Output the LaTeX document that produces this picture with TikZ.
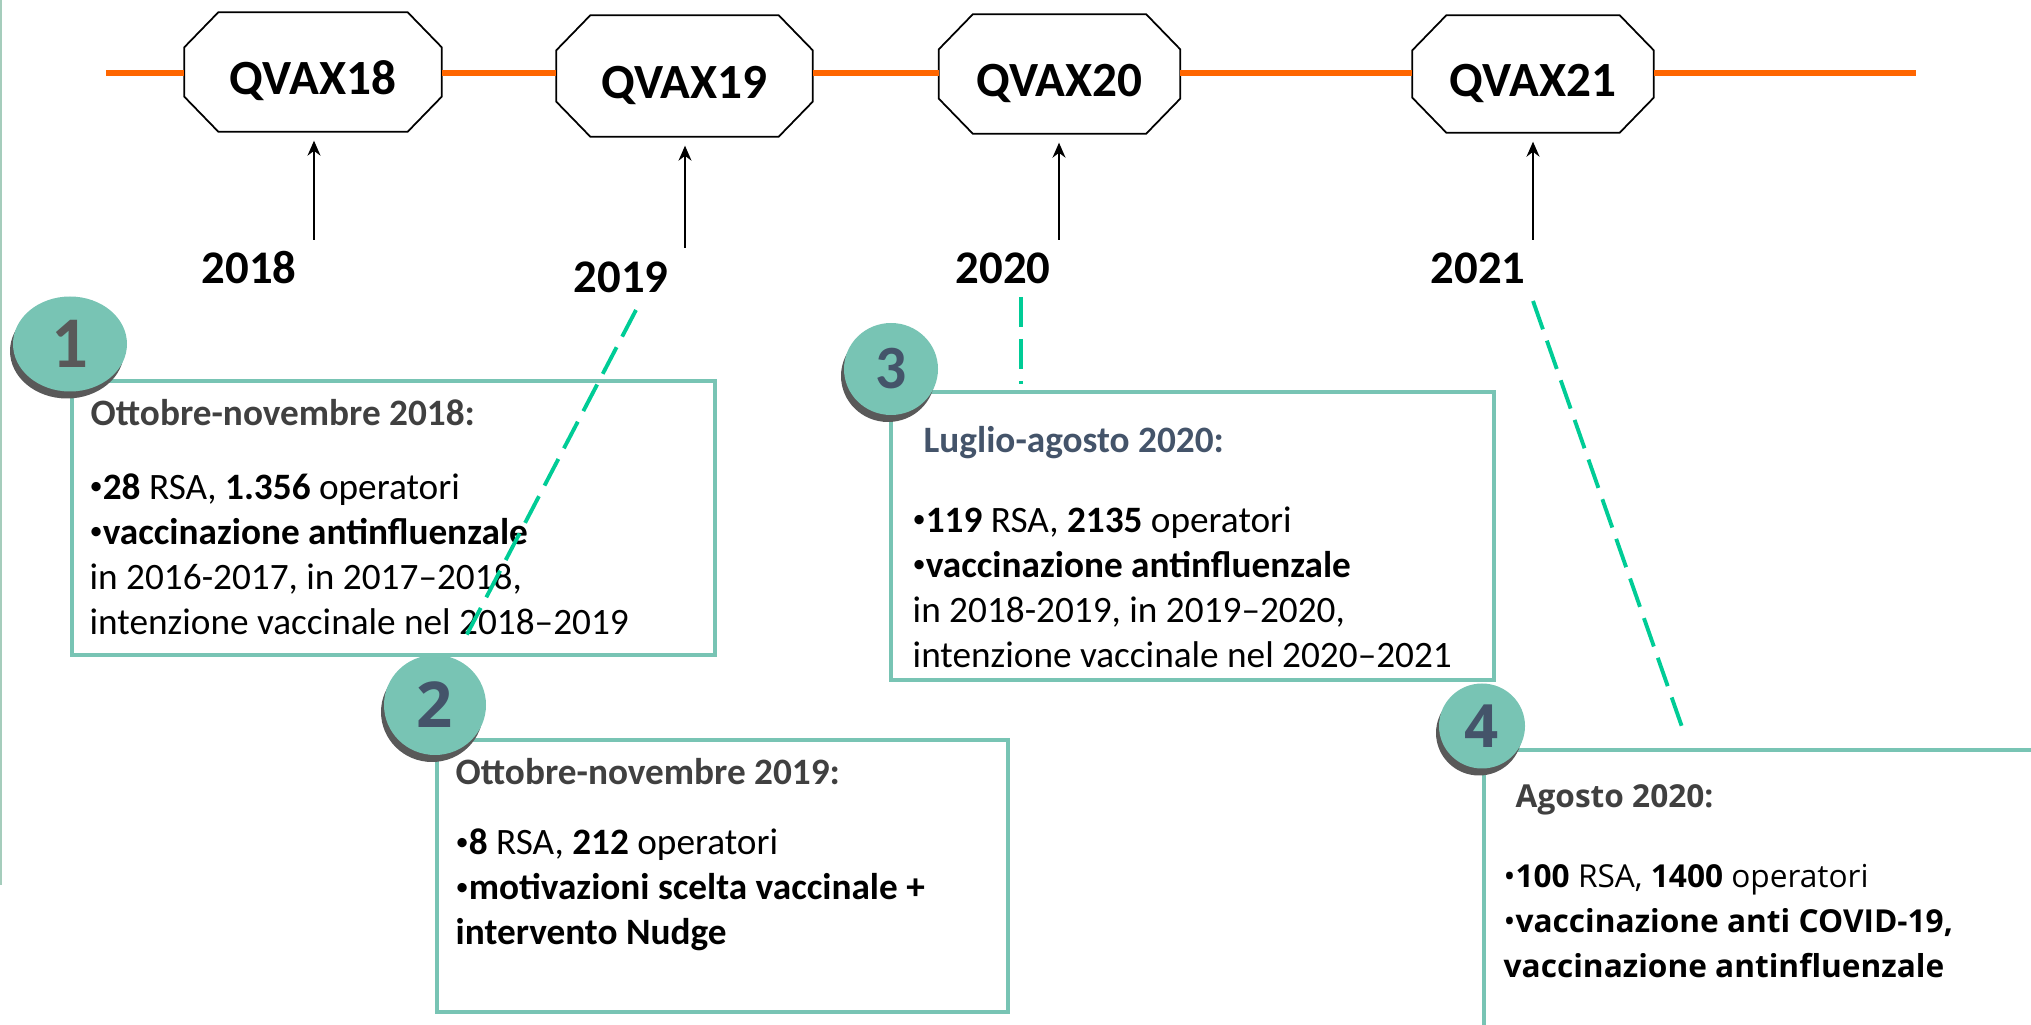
\documentclass[tikz,border=0pt]{standalone}
\usepackage{fontspec}
\setmainfont{Carlito}
\newfontfamily\opensans{Open Sans}
\usetikzlibrary{shapes.geometric,arrows.meta,shadows}

\definecolor{timeorange}{RGB}{255,102,0}
\definecolor{boxteal}{RGB}{120,196,180}
\definecolor{linkgreen}{RGB}{0,204,150}
\definecolor{titlegrey}{RGB}{64,64,64}
\definecolor{numgrey}{RGB}{89,89,89}
\definecolor{numslate}{RGB}{68,84,106}
\definecolor{edgegreen}{RGB}{165,205,188}

% small bullet as in the slides
\newcommand{\itembul}{\raisebox{0.25ex}{\fontsize{7.5}{8}\selectfont•}}

\begin{document}
\begin{tikzpicture}[x=0.1mm, y=-0.1mm,
    % Define styles
    qvax/.style={
        rectangle,
        minimum height=11.8mm,
        inner sep=0pt,
        text height=4.5mm,
        text depth=0pt,
        font=\fontsize{14}{16}\selectfont\bfseries
    },
    octline/.style={
        draw,
        line width=0.5pt,
        line join=miter
    },
    year/.style={
        inner sep=0pt,
        font=\fontsize{13.3}{15}\selectfont\bfseries
    },
    arrow/.style={
        ->,
        >={Stealth[length=1.5mm, width=1.3mm]},
        line width=0.45pt,
        shorten >=0.9mm
    },
    infobox/.style={
        rectangle,
        draw=boxteal,
        line width=0.4mm,
        inner sep=0pt
    },
    boxtitle/.style={
        inner sep=0pt,
        anchor=west,
        text=titlegrey,
        font=\fontsize{10.6}{12.8}\selectfont\bfseries
    },
    boxtext/.style={
        inner sep=0pt,
        anchor=west,
        align=left,
        font=\fontsize{10.6}{12.8}\selectfont
    },
    stepnum/.style={
        ellipse,
        fill=boxteal,
        inner sep=0pt,
        drop shadow={shadow xshift=-0.3mm, shadow yshift=-0.7mm, fill=numgrey, opacity=1},
        text=numslate,
        font=\fontsize{18}{20}\selectfont\bfseries
    },
    link/.style={
        draw=linkgreen,
        line width=1.1pt,
        dash pattern=on 3mm off 1.2mm
    }
]

\clip (0,0) rectangle (2031,1025);

% Thin edge on the left
\draw[edgegreen, line width=0.6pt] (1,0) -- (1,885);

% Survey waves
\node[qvax, minimum width=25.6mm] (q18) at (313,72) {QVAX18};
\node[qvax, minimum width=25.5mm, minimum height=12mm] (q19) at (684.5,76) {QVAX19};
\node[qvax, minimum width=24mm] (q20) at (1059.5,74) {QVAX20};
\node[qvax, minimum width=24mm, minimum height=11.6mm] (q21) at (1533,74) {QVAX21};

% Octagon outlines
\foreach \q in {q18,q19,q20,q21}
    \draw[octline] ([xshift=3.4mm]\q.north west) -- ([xshift=-3.4mm]\q.north east)
        -- ([yshift=-3.5mm]\q.north east) -- ([yshift=3.5mm]\q.south east)
        -- ([xshift=-3.4mm]\q.south east) -- ([xshift=3.4mm]\q.south west)
        -- ([yshift=3.5mm]\q.south west) -- ([yshift=-3.5mm]\q.north west) -- cycle;

% Time line
\coordinate (tlstart) at (106,73);
\coordinate (tlend) at (1916,73);
\draw[timeorange, line width=0.6mm] (tlstart) -- (q18.west |- tlstart);
\draw[timeorange, line width=0.6mm] (q18.east |- tlstart) -- (q19.west |- tlstart);
\draw[timeorange, line width=0.6mm] (q19.east |- tlstart) -- (q20.west |- tlstart);
\draw[timeorange, line width=0.6mm] (q20.east |- tlstart) -- (q21.west |- tlstart);
\draw[timeorange, line width=0.6mm] (q21.east |- tlstart) -- (tlend);

% Years
\node[year] (y18) at (249,268) {2018};
\node[year] (y19) at (621,277) {2019};
\node[year] (y20) at (1003,268) {2020};
\node[year] (y21) at (1478,268) {2021};

% Arrows up to the waves
\coordinate (a18) at (314,240);
\coordinate (a19) at (685,248);
\coordinate (a20) at (1059,240);
\coordinate (a21) at (1533,240);
\draw[arrow] (a18) -- (a18 |- q18.south);
\draw[arrow] (a19) -- (a19 |- q19.south);
\draw[arrow] (a20) -- (a20 |- q20.south);
\draw[arrow] (a21) -- (a21 |- q21.south);

% Boxes
\node[infobox, minimum width=64.3mm, minimum height=27.4mm] (box1) at (393.5,518) {};
\node[infobox, minimum width=57.1mm, minimum height=27.2mm] (box2) at (722.5,876) {};
\node[infobox, minimum width=60.3mm, minimum height=28.8mm] (box3) at (1192.5,536) {};
\node[infobox, minimum width=57.6mm, minimum height=31mm] (box4) at (1772,905) {};

% Box 1
\node[boxtitle] (t1) at (90,413) {Ottobre-novembre 2018:};
\node[boxtext] (b1) at (89,554) {\itembul\textbf{28} RSA, \textbf{1.356} operatori\\
    \itembul\textbf{vaccinazione antinfluenzale}\\
    in 2016-2017, in 2017--2018,\\
    intenzione vaccinale nel 2018--2019};

% Box 2
\node[boxtitle] (t2) at (455,772) {Ottobre-novembre 2019:};
\node[boxtext] (b2) at (455,890) {\itembul\textbf{8} RSA, \textbf{212} operatori\\
    \itembul\textbf{motivazioni scelta vaccinale +}\\
    \textbf{intervento Nudge}};

% Box 3
\node[boxtitle, text=numslate] (t3) at (923,443) {Luglio-agosto 2020:};
\node[boxtext] (b3) at (912,587) {\itembul\textbf{119} RSA, \textbf{2135} operatori\\
    \itembul\textbf{vaccinazione antinfluenzale}\\
    in 2018-2019, in 2019--2020,\\
    intenzione vaccinale nel 2020--2021};

% Box 4
\node[boxtitle, font=\opensans\fontsize{9}{12.8}\selectfont\bfseries] (t4) at (1515,800) {Agosto 2020:};
\node[boxtext, font=\opensans\fontsize{9}{12.8}\selectfont] (b4) at (1503,921) {•\textbf{100} RSA, \textbf{1400} operatori\\
    •\textbf{vaccinazione anti COVID-19,}\\
    \textbf{vaccinazione antinfluenzale}};

% Dashed links from the years
\coordinate (l19a) at (636,310);
\coordinate (l19b) at (463,642);
\coordinate (l20) at (1021,297);
\coordinate (l21a) at (1533,301);
\coordinate (l21b) at (1682,727);
\draw[link] (l19a) -- (l19b);
\draw[link] (l20) -- (l20 |- box3.north) [shorten >=0.6mm];
\draw[link] (l21a) -- (l21b);

% Numbered steps
\node[stepnum, minimum width=11.4mm, minimum height=9.5mm, text=numgrey, font=\fontsize{20.7}{22}\selectfont\bfseries] (s1) at (70,344) {1};
\node[stepnum, minimum width=10.2mm, minimum height=10mm, font=\opensans\fontsize{18}{20}\selectfont\bfseries] (s2) at (435,705) {2};
\node[stepnum, minimum width=9.4mm, minimum height=9.2mm, font=\fontsize{17.5}{20}\selectfont\bfseries] (s3) at (891,369) {3};
\node[stepnum, minimum width=8.6mm, minimum height=8.5mm, font=\opensans\fontsize{17}{20}\selectfont\bfseries] (s4) at (1482,726) {4};
\end{tikzpicture}
\end{document}
